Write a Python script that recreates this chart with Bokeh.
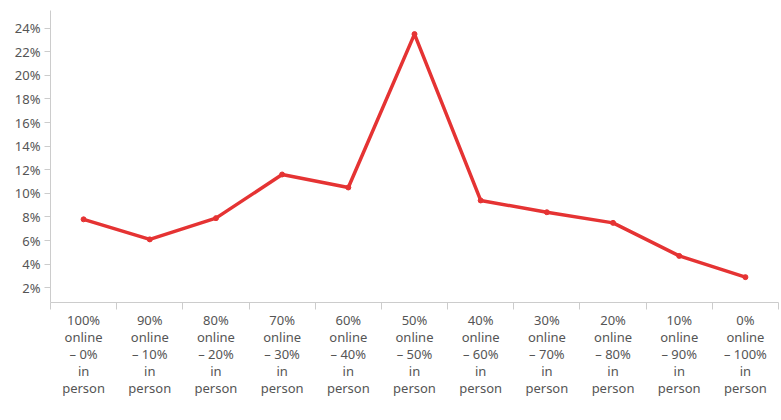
from bokeh.plotting import figure
from bokeh.models import FixedTicker, Legend, LegendItem, ColumnDataSource, Range1d
from bokeh.embed import file_html
from bokeh.resources import INLINE

categories = [
    "100%\nonline\n– 0%\nin\nperson",
    "90%\nonline\n– 10%\nin\nperson",
    "80%\nonline\n– 20%\nin\nperson",
    "70%\nonline\n– 30%\nin\nperson",
    "60%\nonline\n– 40%\nin\nperson",
    "50%\nonline\n– 50%\nin\nperson",
    "40%\nonline\n– 60%\nin\nperson",
    "30%\nonline\n– 70%\nin\nperson",
    "20%\nonline\n– 80%\nin\nperson",
    "10%\nonline\n– 90%\nin\nperson",
    "0%\nonline\n– 100%\nin\nperson",
]
percentage = [7.8, 6.1, 7.9, 11.6, 10.5, 23.5, 9.4, 8.4, 7.5, 4.7, 2.9]
y_ticks = [2, 4, 6, 8, 10, 12, 14, 16, 18, 20, 22, 24]

RED = "#e53333"
FONT = "Noto Sans"

n = len(categories)
xs = [i + 0.5 for i in range(n)]
src = ColumnDataSource(dict(x=xs, y=percentage))

p = figure(frame_width=728, frame_height=292, output_backend="svg", toolbar_location=None,
           x_range=Range1d(0, n), y_range=Range1d(0.75, 25.5),
           min_border_left=50, min_border_right=3, min_border_top=10, min_border_bottom=0)
p.outline_line_color = None
p.xgrid.visible = False
p.ygrid.visible = False
p.background_fill_color = "white"
p.border_fill_color = "white"

line = p.line("x", "y", source=src, line_color=RED, line_width=3.5)
p.scatter("x", "y", source=src, size=5, color=RED)
legend_glyph = p.scatter(x=[], y=[], marker="square", size=13, color=RED)

# x axis
xa = p.xaxis[0]
xa.ticker = FixedTicker(ticks=xs, minor_ticks=list(range(n + 1)))
xa.major_label_overrides = {x: c for x, c in zip(xs, categories)}
xa.major_tick_out = 0
xa.major_tick_in = 0
xa.minor_tick_out = 7
xa.minor_tick_in = 0
xa.minor_tick_line_color = "#cccccc"
xa.axis_line_color = "#cccccc"
xa.major_label_text_font = FONT
xa.major_label_text_font_size = "13px"
xa.major_label_text_color = "#555555"
xa.major_label_text_line_height = 0.95
xa.major_label_standoff = 1

# y axis
ya = p.yaxis[0]
ya.ticker = FixedTicker(ticks=y_ticks)
ya.major_label_overrides = {t: f"{t}%" for t in y_ticks}
ya.major_tick_out = 6
ya.major_tick_in = 0
ya.minor_tick_out = 0
ya.minor_tick_in = 0
ya.major_tick_line_color = "#cccccc"
ya.axis_line_color = "#cccccc"
ya.major_label_text_font = FONT
ya.major_label_text_font_size = "13px"
ya.major_label_text_color = "#555555"
ya.major_label_standoff = 4

legend = Legend(items=[LegendItem(label="Percentage", renderers=[legend_glyph])],
                location="center", orientation="horizontal",
                label_text_font=FONT, label_text_font_size="15px",
                label_text_color="#222222", border_line_color=None,
                background_fill_alpha=0, label_height=14, label_standoff=8,
                glyph_width=14, glyph_height=14, padding=0, margin=0, spacing=6)
p.add_layout(legend, "below")

open("out.html", "w").write(file_html(p, INLINE))
